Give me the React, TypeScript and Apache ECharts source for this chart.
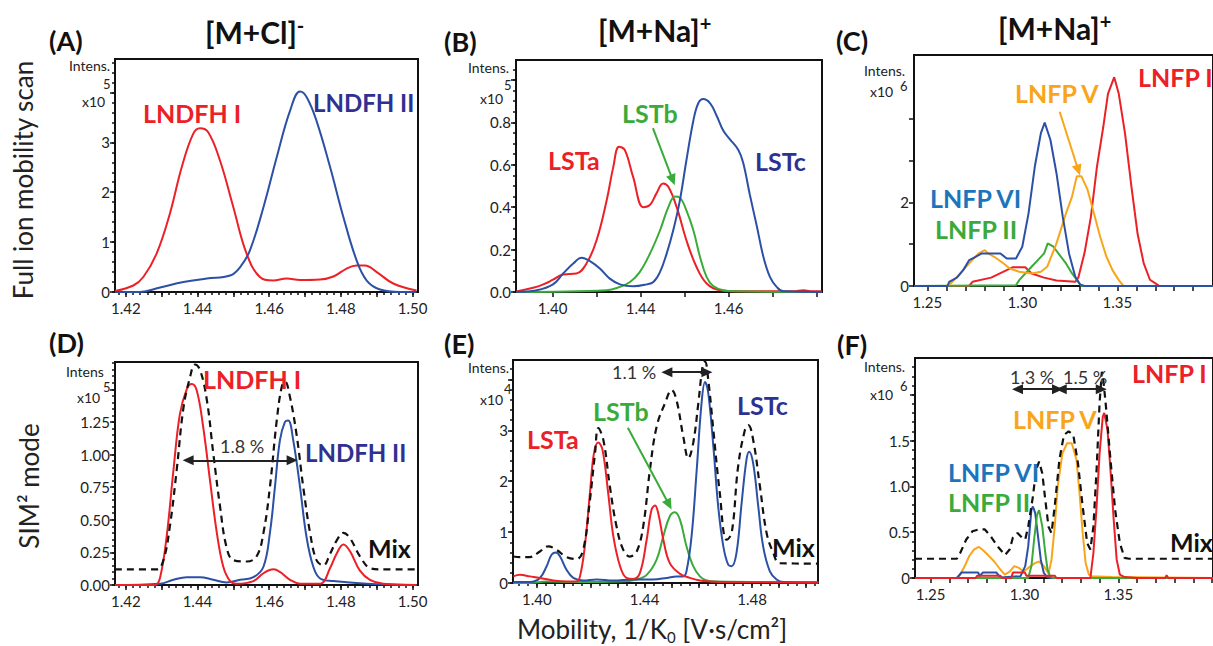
import React, { useEffect, useRef } from "react";
import * as echarts from "echarts";

type Pt = [number, number];

const FONT = 'Lato, "Open Sans", sans-serif';
const RED = "#ec2027";
const BLUE = "#2b50a6";
const NAVY = "#2e3192";
const GREEN = "#3aab3a";
const ORANGE = "#f9a51a";
const LBLUE = "#1c75bc";
const BLACK = "#111111";

// ---------- Panel A: [M+Cl]- full scan ----------
const A_LNDFH_I: Pt[] = [
  [1.417, 0.02], [1.4221, 0.13], [1.4249, 0.3], [1.4286, 0.77], [1.4323, 1.57], [1.4356, 2.5],
  [1.4388, 3.17], [1.4407, 3.28], [1.443, 3.2], [1.4463, 2.63], [1.45, 1.7], [1.4537, 0.77],
  [1.4574, 0.3], [1.4611, 0.23], [1.4649, 0.27], [1.4686, 0.24], [1.4742, 0.25], [1.4779, 0.31],
  [1.4816, 0.47], [1.4844, 0.53], [1.4867, 0.53], [1.49, 0.4], [1.4946, 0.17], [1.5011, 0.03],
];
const A_LNDFH_II: Pt[] = [
  [1.417, 0], [1.424, 0], [1.4296, 0.09], [1.4361, 0.2], [1.4426, 0.27], [1.4491, 0.33],
  [1.4519, 0.5], [1.4546, 0.83], [1.4584, 1.7], [1.4621, 2.7], [1.4658, 3.63], [1.4686, 4.02],
  [1.4705, 3.9], [1.4732, 3.43], [1.477, 2.5], [1.4807, 1.5], [1.4844, 0.63], [1.4872, 0.23],
  [1.4909, 0.05], [1.4965, 0], [1.5011, 0],
];

// ---------- Panel B: [M+Na]+ full scan ----------
const B_LSTA: Pt[] = [
  [1.4118, 0.003], [1.4156, 0.02], [1.4179, 0.036], [1.4201, 0.058], [1.4224, 0.083], [1.4254, 0.087],
  [1.4277, 0.134], [1.43, 0.244], [1.4323, 0.433], [1.4338, 0.59], [1.4351, 0.685], [1.4364, 0.67],
  [1.4383, 0.543], [1.4406, 0.4], [1.4421, 0.41], [1.4436, 0.465], [1.4451, 0.512], [1.4463, 0.496],
  [1.4482, 0.4], [1.4504, 0.244], [1.4527, 0.118], [1.455, 0.04], [1.458, 0.008], [1.4618, 0.003],
  [1.4747, 0.003], [1.477, 0.008], [1.4785, 0.004], [1.4811, 0.003],
];
const B_LSTB: Pt[] = [
  [1.4118, 0], [1.4323, 0.008], [1.4353, 0.024], [1.4376, 0.047], [1.4398, 0.094], [1.4421, 0.18],
  [1.4444, 0.29], [1.4463, 0.4], [1.4478, 0.45], [1.4489, 0.445], [1.4504, 0.385], [1.452, 0.29],
  [1.4535, 0.165], [1.455, 0.07], [1.4565, 0.028], [1.4588, 0.008], [1.4618, 0.003], [1.4811, 0],
];
const B_LSTC: Pt[] = [
  [1.4118, 0], [1.4164, 0.008], [1.4201, 0.036], [1.4224, 0.087], [1.4247, 0.134], [1.4266, 0.162],
  [1.4285, 0.146], [1.4308, 0.11], [1.433, 0.063], [1.4353, 0.036], [1.4383, 0.027], [1.4414, 0.036],
  [1.4429, 0.047], [1.4444, 0.094], [1.4459, 0.18], [1.4474, 0.29], [1.4489, 0.43], [1.4504, 0.62],
  [1.452, 0.81], [1.4531, 0.89], [1.4542, 0.91], [1.4558, 0.89], [1.4573, 0.83], [1.4588, 0.76],
  [1.4603, 0.72], [1.4622, 0.67], [1.4633, 0.61], [1.4648, 0.46], [1.4664, 0.31], [1.4679, 0.165],
  [1.4694, 0.07], [1.4709, 0.024], [1.4724, 0.003], [1.4811, 0],
];

// ---------- Panel C: [M+Na]+ full scan, LNFP ----------
const C_LNFP_I: Pt[] = [
  [1.243, 0], [1.272, 0], [1.2738, 0.1], [1.2836, 0.2], [1.2951, 0.45], [1.3016, 0.45], [1.3049, 0.3],
  [1.3115, 0.2], [1.318, 0.13], [1.3279, 0.1], [1.3295, 0.2], [1.3328, 0.8], [1.3361, 1.65],
  [1.3393, 2.85], [1.3426, 3.8], [1.3451, 4.6], [1.3484, 5.0], [1.3508, 4.6], [1.3541, 3.65],
  [1.3574, 2.4], [1.3607, 1.25], [1.3639, 0.55], [1.3672, 0.15], [1.3705, 0.05], [1.3721, 0], [1.4004, 0],
];
const C_LNFP_II: Pt[] = [
  [1.243, 0], [1.2967, 0.02], [1.2984, 0.14], [1.3016, 0.3], [1.3049, 0.46], [1.3082, 0.62],
  [1.3115, 0.78], [1.3134, 1.02], [1.3164, 0.94], [1.3197, 0.74], [1.323, 0.54], [1.3262, 0.3],
  [1.3295, 0.1], [1.3311, 0], [1.4004, 0],
];
const C_LNFP_V: Pt[] = [
  [1.26, 0], [1.2623, 0.06], [1.2656, 0.22], [1.2721, 0.54], [1.277, 0.78], [1.2803, 0.86],
  [1.282, 0.78], [1.2852, 0.7], [1.2902, 0.54], [1.2934, 0.42], [1.2984, 0.34], [1.3049, 0.3],
  [1.3098, 0.34], [1.3131, 0.46], [1.318, 1.02], [1.323, 1.74], [1.3262, 2.14], [1.3287, 2.63],
  [1.3311, 2.63], [1.3344, 2.3], [1.3377, 1.74], [1.341, 1.18], [1.3443, 0.7], [1.3475, 0.38],
  [1.3508, 0.14], [1.3533, 0], [1.4004, 0],
];
const C_LNFP_VI: Pt[] = [
  [1.243, 0], [1.2607, 0], [1.2615, 0.1], [1.2656, 0.2], [1.2689, 0.38], [1.2721, 0.62], [1.2754, 0.7],
  [1.2787, 0.78], [1.2836, 0.78], [1.2885, 0.78], [1.2918, 0.66], [1.2967, 0.66], [1.3, 0.94],
  [1.3033, 1.74], [1.3066, 2.86], [1.3098, 3.66], [1.3118, 3.91], [1.3148, 3.5], [1.318, 2.7],
  [1.3213, 1.66], [1.3246, 0.78], [1.3279, 0.22], [1.3303, 0.04], [1.3328, 0], [1.4004, 0],
];

// ---------- Panel D: SIM2 [M+Cl]- ----------
const D_LNDFH_I: Pt[] = [
  [1.417, 0], [1.4282, 0], [1.4296, 0.06], [1.4314, 0.37], [1.4333, 0.88], [1.4351, 1.31], [1.437, 1.5],
  [1.4384, 1.54], [1.4398, 1.49], [1.4416, 1.21], [1.4435, 0.8], [1.4454, 0.4], [1.4472, 0.14],
  [1.4491, 0.03], [1.4509, 0.01], [1.4556, 0.03], [1.4584, 0.09], [1.4612, 0.12], [1.463, 0.1],
  [1.4658, 0.04], [1.4686, 0.01], [1.4742, 0.01], [1.477, 0.13], [1.4788, 0.24], [1.4807, 0.31],
  [1.4825, 0.26], [1.4853, 0.11], [1.4881, 0.04], [1.4918, 0.01], [1.5011, 0],
];
const D_LNDFH_II: Pt[] = [
  [1.417, 0], [1.4296, 0.01], [1.4333, 0.04], [1.437, 0.06], [1.4407, 0.06], [1.4444, 0.04],
  [1.4481, 0.02], [1.4519, 0.04], [1.4556, 0.06], [1.4584, 0.14], [1.4602, 0.4], [1.4616, 0.75],
  [1.463, 1.11], [1.4644, 1.25], [1.4653, 1.26], [1.4667, 1.11], [1.4686, 0.75], [1.4704, 0.37],
  [1.4723, 0.14], [1.4742, 0.05], [1.4779, 0.03], [1.4872, 0.01], [1.5011, 0],
];
const D_MIX: Pt[] = [
  [1.417, 0.12], [1.4286, 0.12], [1.4305, 0.19], [1.4323, 0.45], [1.4342, 0.88], [1.4361, 1.36],
  [1.4379, 1.59], [1.4393, 1.69], [1.4407, 1.65], [1.4426, 1.42], [1.4444, 1.01], [1.4463, 0.6],
  [1.4481, 0.29], [1.45, 0.19], [1.4537, 0.18], [1.4565, 0.22], [1.4584, 0.4], [1.4602, 0.75],
  [1.4621, 1.26], [1.4635, 1.52], [1.4644, 1.56], [1.4658, 1.44], [1.4677, 1.14], [1.4695, 0.75],
  [1.4714, 0.4], [1.4732, 0.19], [1.4751, 0.15], [1.477, 0.24], [1.4788, 0.34], [1.4807, 0.4],
  [1.4825, 0.36], [1.4853, 0.22], [1.4881, 0.13], [1.4909, 0.12], [1.5011, 0.12],
];

// ---------- Panel E: SIM2 [M+Na]+ LST ----------
const E_LSTA: Pt[] = [
  [1.3912, 0.13], [1.3937, 0.16], [1.3974, 0.13], [1.4011, 0.1], [1.4061, 0.05], [1.411, 0.03],
  [1.4147, 0.03], [1.416, 0.13], [1.4178, 0.72], [1.4197, 1.76], [1.4212, 2.55], [1.4228, 2.76],
  [1.4244, 2.61], [1.4265, 1.76], [1.4284, 0.92], [1.4309, 0.33], [1.4333, 0.1], [1.4358, 0.08],
  [1.4383, 0.2], [1.4408, 0.85], [1.4426, 1.44], [1.4439, 1.52], [1.4451, 1.37], [1.447, 0.85],
  [1.4494, 0.39], [1.4532, 0.18], [1.4569, 0.1], [1.4606, 0.05], [1.4643, 0.03], [1.468, 0.02], [1.5046, 0.01],
];
const E_LSTB: Pt[] = [
  [1.3912, 0], [1.3974, 0], [1.4036, 0.03], [1.4123, 0.02], [1.4309, 0.03], [1.4371, 0.07],
  [1.4408, 0.16], [1.4445, 0.46], [1.447, 0.92], [1.4494, 1.31], [1.4513, 1.39], [1.4532, 1.24],
  [1.4556, 0.72], [1.4581, 0.33], [1.4606, 0.13], [1.4631, 0.05], [1.4668, 0.03], [1.5046, 0.01],
];
const E_LSTC: Pt[] = [
  [1.3912, 0.02], [1.3974, 0.02], [1.4011, 0.1], [1.4036, 0.33], [1.4055, 0.56], [1.4071, 0.6],
  [1.4086, 0.52], [1.411, 0.26], [1.4135, 0.1], [1.4172, 0.05], [1.4222, 0.07], [1.4284, 0.05],
  [1.4358, 0.07], [1.4432, 0.07], [1.4482, 0.1], [1.4519, 0.13], [1.4544, 0.13], [1.4556, 0.23],
  [1.4575, 0.92], [1.4594, 2.22], [1.4612, 3.53], [1.4625, 3.95], [1.4637, 3.73], [1.4656, 2.68],
  [1.4674, 1.5], [1.4693, 0.72], [1.4711, 0.36], [1.4724, 0.33], [1.4742, 0.59], [1.4761, 1.57],
  [1.4779, 2.42], [1.4789, 2.58], [1.4804, 2.35], [1.4823, 1.5], [1.4841, 0.72], [1.4866, 0.23],
  [1.4891, 0.07], [1.4916, 0.02], [1.5046, 0.01],
];
const E_MIX: Pt[] = [
  [1.3912, 0.52], [1.3937, 0.51], [1.3974, 0.51], [1.4011, 0.62], [1.4042, 0.72], [1.4073, 0.65],
  [1.411, 0.51], [1.4147, 0.47], [1.4172, 0.65], [1.4197, 1.63], [1.4216, 2.55], [1.4228, 3.04],
  [1.4247, 2.81], [1.4271, 1.9], [1.4296, 1.11], [1.4321, 0.65], [1.4346, 0.52], [1.4371, 0.62],
  [1.4395, 1.11], [1.442, 2.22], [1.4445, 3.07], [1.4476, 3.53], [1.4501, 3.79], [1.4519, 3.59],
  [1.4544, 2.88], [1.4563, 2.45], [1.4581, 2.75], [1.46, 3.53], [1.4616, 4.25], [1.4625, 4.35],
  [1.4637, 3.99], [1.4656, 3.0], [1.468, 1.76], [1.4705, 0.85], [1.4724, 0.98], [1.4748, 2.29],
  [1.4773, 3.0], [1.4786, 3.1], [1.4804, 2.81], [1.4829, 1.9], [1.4854, 0.98], [1.4879, 0.59],
  [1.4903, 0.39], [1.5046, 0.38],
];

// ---------- Panel F: SIM2 [M+Na]+ LNFP ----------
const F_LNFP_V: Pt[] = [
  [1.2417, 0], [1.264, 0], [1.2657, 0.036], [1.2682, 0.13], [1.2706, 0.24], [1.2731, 0.31], [1.2756, 0.34],
  [1.2781, 0.3], [1.2806, 0.25], [1.2839, 0.18], [1.2872, 0.09], [1.2896, 0.036], [1.2921, 0.07],
  [1.2946, 0.13], [1.2971, 0.11], [1.2996, 0.07], [1.302, 0.11], [1.3053, 0.16], [1.3078, 0.18],
  [1.3103, 0.13], [1.3128, 0.05], [1.3144, 0.2], [1.3161, 0.56], [1.3177, 1.0], [1.3202, 1.36],
  [1.3227, 1.47], [1.3252, 1.47], [1.3277, 1.29], [1.3293, 0.93], [1.331, 0.49], [1.3326, 0.16],
  [1.3343, 0.036], [1.3359, 0.02], [1.3467, 0.01], [1.4004, 0],
];
const F_LNFP_VI: Pt[] = [
  [1.2417, 0], [1.264, 0], [1.2665, 0.06], [1.2754, 0.06], [1.276, 0.02], [1.2779, 0.06], [1.285, 0.06],
  [1.2872, 0.005], [1.2979, 0.02], [1.3004, 0.13], [1.302, 0.345], [1.3037, 0.745], [1.3045, 0.78],
  [1.3057, 0.71], [1.307, 0.49], [1.3087, 0.2], [1.3103, 0.055], [1.312, 0.01], [1.314, 0], [1.4004, 0],
];
const F_LNFP_II: Pt[] = [
  [1.2417, 0], [1.302, 0], [1.3037, 0.13], [1.3053, 0.45], [1.3067, 0.69], [1.3078, 0.74],
  [1.3095, 0.56], [1.3111, 0.27], [1.3123, 0.09], [1.3136, 0.02], [1.3153, 0], [1.4004, 0],
];
const F_LNFP_I: Pt[] = [
  [1.2417, 0], [1.274, 0], [1.2748, 0.025], [1.2872, 0.025], [1.288, 0], [1.293, 0], [1.2938, 0.06],
  [1.3002, 0.06], [1.301, 0.025], [1.3161, 0.025], [1.317, 0], [1.3351, 0], [1.3367, 0.27],
  [1.3384, 0.78], [1.34, 1.36], [1.3417, 1.76], [1.3425, 1.8], [1.3442, 1.62], [1.3458, 1.18],
  [1.3475, 0.64], [1.3491, 0.2], [1.3508, 0.036], [1.3533, 0.01], [1.3599, 0], [1.375, 0],
  [1.3757, 0.03], [1.3765, 0], [1.4004, 0],
];
const F_MIX: Pt[] = [
  [1.2417, 0.21], [1.264, 0.21], [1.2657, 0.27], [1.269, 0.42], [1.2723, 0.51], [1.2756, 0.53],
  [1.2789, 0.53], [1.2822, 0.45], [1.2855, 0.35], [1.2896, 0.25], [1.2921, 0.31], [1.2938, 0.44],
  [1.2963, 0.49], [1.2987, 0.44], [1.3004, 0.42], [1.302, 0.56], [1.3045, 0.89], [1.3062, 1.18],
  [1.3078, 1.27], [1.3095, 1.14], [1.3111, 0.85], [1.3128, 0.56], [1.3144, 0.49], [1.3161, 0.78],
  [1.3186, 1.29], [1.321, 1.56], [1.3235, 1.6], [1.326, 1.56], [1.3285, 1.25], [1.331, 0.78],
  [1.3334, 0.38], [1.3351, 0.31], [1.3367, 0.56], [1.3384, 1.18], [1.34, 1.91], [1.3412, 2.25],
  [1.342, 2.16], [1.3434, 1.87], [1.3458, 1.29], [1.3483, 0.74], [1.3508, 0.38], [1.3533, 0.22],
  [1.3557, 0.21], [1.4004, 0.21],
];

// ---------- Arrows (data coordinates) ----------
const B_ARROW: Pt[] = [[1.4428, 0.773], [1.4473, 0.528]];
const C_ARROW: Pt[] = [[1.3197, 4.17], [1.3295, 2.77]];
const D_GAP: Pt[] = [[1.4374, 0.956], [1.4664, 0.956]];
const E_ARROW: Pt[] = [[1.4338, 3.05], [1.4491, 1.54]];
const E_GAP: Pt[] = [[1.4483, 4.14], [1.4632, 4.14]];
const F_GAP1: Pt[] = [[1.2963, 2.06], [1.3176, 2.06]];
const F_GAP2: Pt[] = [[1.3196, 2.06], [1.3409, 2.06]];

// ---------- Tick values and labels ----------
const AD_X_TICKS = [1.42, 1.43, 1.44, 1.45, 1.46, 1.47, 1.48, 1.49, 1.5];
const AD_X_LABEL_VALUES = [1.42, 1.44, 1.46, 1.48, 1.5];
const AD_X_LABELS = ["1.42", "1.44", "1.46", "1.48", "1.50"];
const A_Y_TICKS = [0, 1, 2, 3, 4];
const A_Y_LABEL_VALUES = [0, 1, 2, 3];
const A_Y_LABELS = ["0", "1", "2", "3"];

const B_X_TICKS = [1.42, 1.43, 1.44, 1.45, 1.46, 1.47, 1.48];
const B_X_LABEL_VALUES = [1.42, 1.44, 1.46];
const B_X_LABELS = ["1.40", "1.44", "1.46"];
const B_Y_TICKS = [0, 0.2, 0.4, 0.6, 0.8, 1.0];
const B_Y_LABEL_VALUES = [0, 0.2, 0.4, 0.6, 0.8];
const B_Y_LABELS = ["0.0", "0.2", "0.4", "0.6", "0.8"];

const CF_X_LABEL_VALUES = [1.25, 1.3, 1.35];
const CF_X_LABELS = ["1.25", "1.30", "1.35"];
const C_Y_TICKS = [0, 1, 2, 3, 4];
const C_Y_LABEL_VALUES = [0, 2];
const C_Y_LABELS = ["0", "2"];

const D_Y_TICKS = [0, 0.25, 0.5, 0.75, 1.0, 1.25, 1.5];
const D_Y_LABEL_VALUES = [0, 0.25, 0.5, 0.75, 1.0, 1.25];
const D_Y_LABELS = ["0.00", "0.25", "0.50", "0.75", "1.00", "1.25"];

const E_X_TICKS = [1.4, 1.41, 1.42, 1.43, 1.44, 1.45, 1.46, 1.47, 1.48, 1.49, 1.5];
const E_X_LABEL_VALUES = [1.4, 1.44, 1.48];
const E_X_LABELS = ["1.40", "1.44", "1.48"];
const E_Y_TICKS = [0, 1, 2, 3, 4];
const E_Y_LABEL_VALUES = [0, 1, 2, 3];
const E_Y_LABELS = ["0", "1", "2", "3"];

const F_Y_TICKS = [0, 0.5, 1.0, 1.5, 2.0];
const F_Y_LABEL_VALUES = [0, 0.5, 1.0, 1.5];
const F_Y_LABELS = ["0", "0.5", "1.0", "1.5"];

function range(a: number, b: number, step: number): number[] {
  const out: number[] = [];
  const n = Math.round((b - a) / step);
  for (let i = 0; i <= n; i++) out.push(+(a + i * step).toFixed(5));
  return out;
}

interface SeriesDef { name: string; data: Pt[]; color: string; dashed?: boolean }
interface ArrowDef { pts: Pt[]; color: string; double?: boolean }
interface PanelDef {
  box: [number, number, number, number];
  x: [number, number];
  y: [number, number];
  xTicks: number[]; xLabelValues: number[]; xLabels: string[]; xMinor: number[];
  yTicks: number[]; yLabelValues: number[]; yLabels: string[]; yMinor: number[];
  smooth: number | false;
  series: SeriesDef[];
  arrows: ArrowDef[];
}

const PANELS: PanelDef[] = [
  {
    box: [115, 59, 303, 233], x: [1.417, 1.5015], y: [0, 4.67],
    xTicks: AD_X_TICKS, xLabelValues: AD_X_LABEL_VALUES, xLabels: AD_X_LABELS, xMinor: range(1.418, 1.5, 0.002),
    yTicks: A_Y_TICKS, yLabelValues: A_Y_LABEL_VALUES, yLabels: A_Y_LABELS, yMinor: range(0, 4.6, 0.2),
    smooth: 0.4,
    series: [
      { name: "LNDFH I", data: A_LNDFH_I, color: RED },
      { name: "LNDFH II", data: A_LNDFH_II, color: BLUE },
    ],
    arrows: [],
  },
  {
    box: [516, 60, 306, 232], x: [1.4117, 1.4812], y: [0, 1.094],
    xTicks: B_X_TICKS, xLabelValues: B_X_LABEL_VALUES, xLabels: B_X_LABELS, xMinor: [],
    yTicks: B_Y_TICKS, yLabelValues: B_Y_LABEL_VALUES, yLabels: B_Y_LABELS, yMinor: range(0, 1.05, 0.05),
    smooth: 0.4,
    series: [
      { name: "LSTa", data: B_LSTA, color: RED },
      { name: "LSTb", data: B_LSTB, color: GREEN },
      { name: "LSTc", data: B_LSTC, color: BLUE },
    ],
    arrows: [{ pts: B_ARROW, color: GREEN }],
  },
  {
    box: [914, 55, 320, 231], x: [1.243, 1.4004], y: [0, 5.53],
    xTicks: range(1.25, 1.39, 0.01), xLabelValues: CF_X_LABEL_VALUES, xLabels: CF_X_LABELS, xMinor: [],
    yTicks: C_Y_TICKS, yLabelValues: C_Y_LABEL_VALUES, yLabels: C_Y_LABELS, yMinor: [],
    smooth: false,
    series: [
      { name: "LNFP I", data: C_LNFP_I, color: RED },
      { name: "LNFP II", data: C_LNFP_II, color: GREEN },
      { name: "LNFP V", data: C_LNFP_V, color: ORANGE },
      { name: "LNFP VI", data: C_LNFP_VI, color: BLUE },
    ],
    arrows: [{ pts: C_ARROW, color: ORANGE }],
  },
  {
    box: [115, 362, 303, 223], x: [1.417, 1.5015], y: [0, 1.709],
    xTicks: AD_X_TICKS, xLabelValues: AD_X_LABEL_VALUES, xLabels: AD_X_LABELS, xMinor: range(1.418, 1.5, 0.002),
    yTicks: D_Y_TICKS, yLabelValues: D_Y_LABEL_VALUES, yLabels: D_Y_LABELS, yMinor: range(0, 1.7, 0.05),
    smooth: 0.4,
    series: [
      { name: "LNDFH II", data: D_LNDFH_II, color: BLUE },
      { name: "LNDFH I", data: D_LNDFH_I, color: RED },
      { name: "Mix", data: D_MIX, color: BLACK, dashed: true },
    ],
    arrows: [{ pts: D_GAP, color: "#222", double: true }],
  },
  {
    box: [513, 360, 305, 223], x: [1.3911, 1.5045], y: [0, 4.38],
    xTicks: E_X_TICKS, xLabelValues: E_X_LABEL_VALUES, xLabels: E_X_LABELS, xMinor: range(1.39333, 1.50333, 0.01 / 3),
    yTicks: E_Y_TICKS, yLabelValues: E_Y_LABEL_VALUES, yLabels: E_Y_LABELS, yMinor: range(0, 4.2, 0.2),
    smooth: 0.4,
    series: [
      { name: "LSTb", data: E_LSTB, color: GREEN },
      { name: "LSTc", data: E_LSTC, color: BLUE },
      { name: "LSTa", data: E_LSTA, color: RED },
      { name: "Mix", data: E_MIX, color: BLACK, dashed: true },
    ],
    arrows: [
      { pts: E_ARROW, color: GREEN },
      { pts: E_GAP, color: "#222", double: true },
    ],
  },
  {
    box: [915, 358, 320, 220], x: [1.2417, 1.4004], y: [0, 2.4],
    xTicks: range(1.25, 1.4, 0.01), xLabelValues: CF_X_LABEL_VALUES, xLabels: CF_X_LABELS, xMinor: [],
    yTicks: F_Y_TICKS, yLabelValues: F_Y_LABEL_VALUES, yLabels: F_Y_LABELS, yMinor: range(0, 2.3, 0.1),
    smooth: false,
    series: [
      { name: "LNFP V", data: F_LNFP_V, color: ORANGE },
      { name: "LNFP VI", data: F_LNFP_VI, color: BLUE },
      { name: "LNFP II", data: F_LNFP_II, color: GREEN },
      { name: "LNFP I", data: F_LNFP_I, color: RED },
      { name: "Mix", data: F_MIX, color: BLACK, dashed: true },
    ],
    arrows: [
      { pts: F_GAP1, color: "#222", double: true },
      { pts: F_GAP2, color: "#222", double: true },
    ],
  },
];

// ---------- Free texts ----------
interface TextDef { t: string; x: number; y: number; size: number; color: string; bold?: boolean; rot?: boolean; center?: boolean }
const TEXTS: TextDef[] = [
  { t: "(A)", x: 49, y: 40, size: 27, color: BLACK, bold: true },
  { t: "(B)", x: 444, y: 41, size: 27, color: BLACK, bold: true },
  { t: "(C)", x: 836, y: 40, size: 27, color: BLACK, bold: true },
  { t: "(D)", x: 49, y: 342, size: 27, color: BLACK, bold: true },
  { t: "(E)", x: 444, y: 343, size: 27, color: BLACK, bold: true },
  { t: "(F)", x: 837, y: 344, size: 27, color: BLACK, bold: true },
  { t: "Full ion mobility scan", x: 23, y: 180, size: 26, color: "#222", rot: true, center: true },
  { t: "SIM² mode", x: 29, y: 486, size: 26, color: "#222", rot: true, center: true },
  // curve labels
  { t: "LNDFH I", x: 143, y: 113, size: 25, color: RED, bold: true },
  { t: "LNDFH II", x: 313, y: 102, size: 24, color: NAVY, bold: true },
  { t: "LSTa", x: 548, y: 160, size: 25, color: RED, bold: true },
  { t: "LSTb", x: 622, y: 113, size: 25, color: GREEN, bold: true },
  { t: "LSTc", x: 755, y: 161, size: 25, color: NAVY, bold: true },
  { t: "LNFP I", x: 1138, y: 77, size: 25, color: RED, bold: true },
  { t: "LNFP V", x: 1015, y: 93, size: 25, color: ORANGE, bold: true },
  { t: "LNFP VI", x: 930, y: 198, size: 25, color: LBLUE, bold: true },
  { t: "LNFP II", x: 935, y: 229, size: 25, color: GREEN, bold: true },
  { t: "LNDFH I", x: 203, y: 379, size: 25, color: RED, bold: true },
  { t: "LNDFH II", x: 305, y: 452, size: 24, color: NAVY, bold: true },
  { t: "Mix", x: 368, y: 548, size: 25, color: BLACK, bold: true },
  { t: "LSTa", x: 527, y: 439, size: 25, color: RED, bold: true },
  { t: "LSTb", x: 593, y: 411, size: 25, color: GREEN, bold: true },
  { t: "LSTc", x: 737, y: 405, size: 25, color: NAVY, bold: true },
  { t: "Mix", x: 772, y: 547, size: 25, color: BLACK, bold: true },
  { t: "LNFP I", x: 1132, y: 373, size: 25, color: RED, bold: true },
  { t: "LNFP V", x: 1013, y: 419, size: 25, color: ORANGE, bold: true },
  { t: "LNFP VI", x: 948, y: 472, size: 25, color: LBLUE, bold: true },
  { t: "LNFP II", x: 948, y: 502, size: 25, color: GREEN, bold: true },
  { t: "Mix", x: 1170, y: 542, size: 25, color: BLACK, bold: true },
  { t: "1.8 %", x: 220, y: 446, size: 18, color: "#333" },
  { t: "1.1 %", x: 612, y: 372, size: 18, color: "#333" },
  { t: "1.3 %", x: 1010, y: 377, size: 18, color: "#333" },
  { t: "1.5 %", x: 1063, y: 377, size: 18, color: "#333" },
  // intensity labels
  { t: "Intens.", x: 69, y: 65, size: 14, color: "#222" },
  { t: "x10", x: 82, y: 101, size: 14, color: "#222" },
  { t: "5", x: 103, y: 84, size: 13, color: "#222" },
  { t: "Intens.", x: 468, y: 67, size: 14, color: "#222" },
  { t: "x10", x: 480, y: 98, size: 14, color: "#222" },
  { t: "5", x: 504, y: 85, size: 13, color: "#222" },
  { t: "Intens.", x: 864, y: 70, size: 14, color: "#222" },
  { t: "x10", x: 870, y: 91, size: 14, color: "#222" },
  { t: "6", x: 900, y: 86, size: 13, color: "#222" },
  { t: "Intens", x: 66, y: 371, size: 14, color: "#222" },
  { t: "x10", x: 77, y: 397, size: 14, color: "#222" },
  { t: "5", x: 103, y: 387, size: 13, color: "#222" },
  { t: "Intens.", x: 468, y: 367, size: 14, color: "#222" },
  { t: "x10", x: 480, y: 399, size: 14, color: "#222" },
  { t: "4", x: 504, y: 389, size: 13, color: "#222" },
  { t: "Intens.", x: 864, y: 366, size: 14, color: "#222" },
  { t: "x10", x: 870, y: 394, size: 14, color: "#222" },
  { t: "6", x: 900, y: 386, size: 13, color: "#222" },
];

function buildOption() {
  const grid: any[] = [];
  const xAxis: any[] = [];
  const yAxis: any[] = [];
  const series: any[] = [];
  const tickStyle = { color: "#111", width: 1.5 };
  const labelStyle = { fontSize: 15, fontFamily: FONT, color: "#222" };

  PANELS.forEach((p, i) => {
    const [left, top, width, height] = p.box;
    grid.push({ left, top, width, height, show: true, borderColor: "#111", borderWidth: 2, backgroundColor: "transparent", containLabel: false });
    const common = { type: "value", gridIndex: i, splitLine: { show: false }, axisLine: { show: false, onZero: false } };
    xAxis.push({
      ...common, min: p.x[0], max: p.x[1], position: "bottom",
      axisTick: { show: true, customValues: p.xTicks, length: 5, lineStyle: tickStyle },
      axisLabel: {
        show: true, customValues: p.xLabelValues, margin: 8, ...labelStyle,
        formatter: (v: number) => p.xLabels[p.xLabelValues.indexOf(v)] ?? "",
      },
    });
    xAxis.push({
      ...common, min: p.x[0], max: p.x[1], position: "bottom",
      axisTick: { show: p.xMinor.length > 0, customValues: p.xMinor.length ? p.xMinor : [p.x[0]], length: 3, lineStyle: tickStyle },
      axisLabel: { show: false },
    });
    yAxis.push({
      ...common, min: p.y[0], max: p.y[1], position: "left",
      axisTick: { show: true, customValues: p.yTicks, length: 5, lineStyle: tickStyle },
      axisLabel: {
        show: true, customValues: p.yLabelValues, margin: 5, ...labelStyle,
        formatter: (v: number) => p.yLabels[p.yLabelValues.indexOf(v)] ?? "",
      },
    });
    yAxis.push({
      ...common, min: p.y[0], max: p.y[1], position: "left",
      axisTick: { show: p.yMinor.length > 0, customValues: p.yMinor.length ? p.yMinor : [p.y[0]], length: 3, lineStyle: tickStyle },
      axisLabel: { show: false },
    });

    p.series.forEach((s) => {
      series.push({
        type: "line", name: s.name, xAxisIndex: 2 * i, yAxisIndex: 2 * i,
        data: s.data, showSymbol: false, symbol: "none", smooth: p.smooth,
        lineStyle: { color: s.color, width: s.dashed ? 2.2 : 2, type: s.dashed ? [7, 5] : "solid" },
        itemStyle: { color: s.color },
        emphasis: { disabled: true },
      });
    });

    if (p.arrows.length) {
      series.push({
        type: "line", name: "arrows" + i, xAxisIndex: 2 * i, yAxisIndex: 2 * i, data: [],
        markLine: {
          silent: true, animation: false, symbolSize: [10, 11],
          label: { show: false }, emphasis: { disabled: true },
          data: p.arrows.map((a) => [
            { coord: a.pts[0], symbol: a.double ? "triangle" : "none", lineStyle: { color: a.color, width: 2, type: "solid" }, itemStyle: { color: a.color } },
            { coord: a.pts[1], symbol: "triangle", lineStyle: { color: a.color, width: 2, type: "solid" }, itemStyle: { color: a.color } },
          ]),
        },
      });
    }
  });

  const graphic = TEXTS.map((t) => ({
    type: "text", x: t.x, y: t.y, z: 100,
    rotation: t.rot ? Math.PI / 2 : 0,
    style: {
      text: t.t, fill: t.color, fontSize: t.size, fontFamily: FONT,
      fontWeight: t.bold ? "bold" : "normal",
      align: t.center ? "center" : "left", verticalAlign: "middle",
      textAlign: t.center ? "center" : "left", textVerticalAlign: "middle",
    },
  }));

  const headRich = {
    m: { fontSize: 30, fontWeight: "bold", fontFamily: FONT, color: BLACK, lineHeight: 34 },
    s: { fontSize: 20, fontWeight: "bold", fontFamily: FONT, color: BLACK, lineHeight: 18, verticalAlign: "top" },
  };
  const title = [
    { text: "{m|[M+Cl]}{s|-}", left: 205, top: 15, padding: 0, textStyle: { rich: headRich } },
    { text: "{m|[M+Na]}{s|+}", left: 598, top: 13, padding: 0, textStyle: { rich: headRich } },
    { text: "{m|[M+Na]}{s|+}", left: 998, top: 11, padding: 0, textStyle: { rich: headRich } },
    {
      text: "{a|Mobility, 1/K}{b|0}{a| [V·s/cm²]}", left: 517, top: 614, padding: 0,
      textStyle: {
        fontWeight: "normal",
        rich: {
          a: { fontSize: 26, fontWeight: "normal", fontFamily: FONT, color: "#222", lineHeight: 30 },
          b: { fontSize: 15, fontWeight: "normal", fontFamily: FONT, color: "#222", lineHeight: 14, verticalAlign: "bottom" },
        },
      },
    },
  ];

  return { animation: false, backgroundColor: "#ffffff", grid, xAxis, yAxis, series, graphic, title };
}

export default function App() {
  const ref = useRef<HTMLDivElement>(null);
  useEffect(() => {
    if (!ref.current) return;
    const chart = echarts.init(ref.current, undefined, { renderer: "svg" });
    chart.setOption(buildOption() as any);
    return () => chart.dispose();
  }, []);
  return <div ref={ref} style={{ position: "fixed", left: 0, top: 0, width: 1213, height: 646, background: "#fff" }} />;
}
